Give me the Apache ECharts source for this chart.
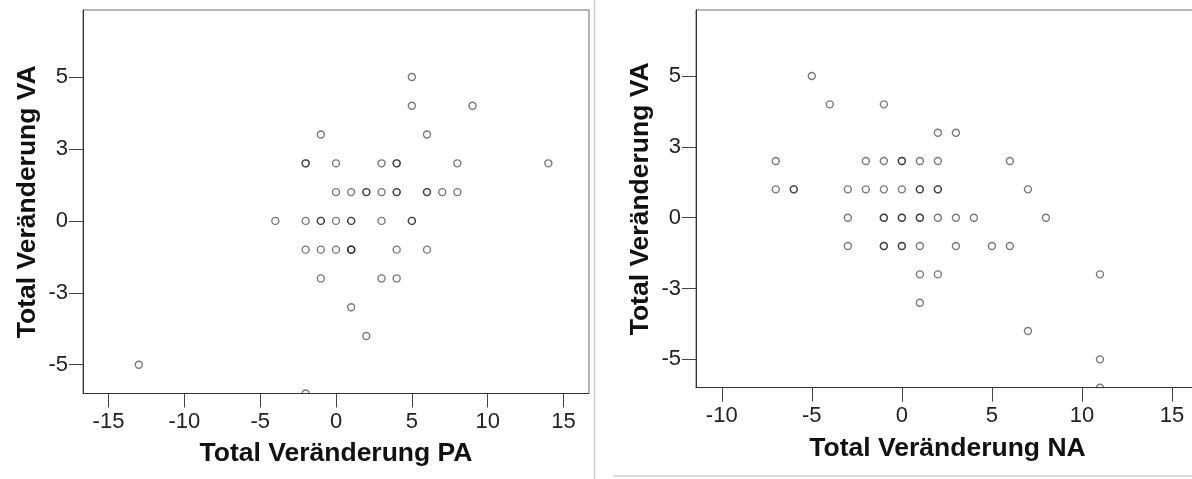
<!DOCTYPE html>
<html>
<head>
<meta charset="utf-8">
<script src="https://cdn.jsdelivr.net/npm/echarts@6/dist/echarts.min.js"></script>
<style>
  html, body { margin: 0; padding: 0; background: #fff; overflow: hidden; }
  /* the right-hand panel runs a little past the visible page edge */
  #chart { width: 1212px; height: 479px; }
</style>
</head>
<body>
<div id="chart"></div>
<script>
// Tick positions and their printed labels
const xTickValues = [-15, -10, -5, 0, 5, 10, 15];
const yTickValues = [-5, -2.5, 0, 2.5, 5];
const yTickLabels = ['-5', '-3', '0', '3', '5'];

// Axis titles
const titlePA = 'Total Veränderung PA';
const titleNA = 'Total Veränderung NA';
const titleVA = 'Total Veränderung VA';

// [Total Veränderung PA, Total Veränderung VA] — repeated pairs are coincident cases
const pointsPA = [
  [5, 5],
  [5, 4], [9, 4],
  [-1, 3], [6, 3],
  [-2, 2], [-2, 2], [0, 2], [3, 2], [4, 2], [4, 2], [8, 2], [14, 2],
  [0, 1], [1, 1], [2, 1], [2, 1], [3, 1], [4, 1], [4, 1], [6, 1], [6, 1], [7, 1], [8, 1],
  [-4, 0], [-2, 0], [-1, 0], [-1, 0], [0, 0], [1, 0], [1, 0], [3, 0], [5, 0], [5, 0],
  [-2, -1], [-1, -1], [0, -1], [1, -1], [1, -1], [1, -1], [4, -1], [6, -1],
  [-1, -2], [3, -2], [4, -2],
  [1, -3],
  [2, -4],
  [-13, -5],
  [-2, -6]
];

// [Total Veränderung NA, Total Veränderung VA]
const pointsNA = [
  [-5, 5],
  [-4, 4], [-1, 4],
  [2, 3], [3, 3],
  [-7, 2], [-2, 2], [-1, 2], [0, 2], [0, 2], [1, 2], [2, 2], [6, 2],
  [-7, 1], [-6, 1], [-6, 1], [-3, 1], [-2, 1], [-1, 1], [0, 1], [1, 1], [1, 1], [2, 1], [2, 1], [7, 1],
  [-3, 0], [-1, 0], [-1, 0], [0, 0], [0, 0], [1, 0], [1, 0], [2, 0], [3, 0], [4, 0], [8, 0],
  [-3, -1], [-1, -1], [-1, -1], [0, -1], [0, -1], [1, -1], [3, -1], [5, -1], [6, -1],
  [1, -2], [2, -2], [11, -2],
  [1, -3],
  [7, -4],
  [11, -5],
  [11, -6]
];

// Axis ranges
const rangePA = [-16.68, 16.68];
const rangeNA = [-11.43, 16.5];
const rangeVA = [-6, 7.33];

// Plot boxes (pixels)
const boxL = { left: 83, top: 10, width: 506, height: 383.5 };
const boxR = { left: 696, top: 10, width: 503, height: 377.7 };

const FONT = '"Liberation Sans", Arial, Helvetica, sans-serif';
const TITLE_STYLE = { fontFamily: FONT, fontSize: 26.5, fontWeight: 'bold', color: '#111' };

function xAxisCfg(gridIndex, range, name) {
  return {
    type: 'value', gridIndex, min: range[0], max: range[1], z: 6,
    name, nameLocation: 'middle', nameGap: 47,
    nameTextStyle: TITLE_STYLE,
    axisLine: { show: true, onZero: false, lineStyle: { color: '#333', width: 1 } },
    axisTick: { show: true, length: 14, customValues: xTickValues, lineStyle: { color: '#444', width: 1 } },
    axisLabel: { customValues: xTickValues, margin: 17, fontFamily: FONT, fontSize: 22, color: '#222',
      formatter: v => String(v) },
    splitLine: { show: false }
  };
}

function yAxisCfg(gridIndex) {
  return {
    type: 'value', gridIndex, min: rangeVA[0], max: rangeVA[1], z: 6,
    name: titleVA, nameLocation: 'middle', nameGap: 42,
    nameTextStyle: TITLE_STYLE,
    axisLine: { show: true, onZero: false, lineStyle: { color: '#333', width: 1 } },
    axisTick: { show: true, length: 14, customValues: yTickValues, lineStyle: { color: '#444', width: 1 } },
    axisLabel: { customValues: yTickValues, margin: 15, fontFamily: FONT, fontSize: 22, color: '#222',
      formatter: v => yTickLabels[yTickValues.indexOf(v)] ?? '' },
    splitLine: { show: false }
  };
}

const markerStyle = {
  color: 'rgba(0,0,0,0)',
  borderColor: 'rgba(20,20,20,0.72)',
  borderWidth: 1.4
};

// White strips just under each plot box so that marks sitting on the lower edge are cut off there
function edgeMask(box) {
  return {
    type: 'rect', z: 4, silent: true,
    shape: { x: box.left, y: box.top + box.height + 0.6, width: box.width, height: 6 },
    style: { fill: '#fff' }
  };
}

const chart = echarts.init(document.getElementById('chart'), null, { renderer: 'canvas' });
chart.setOption({
  animation: false,
  backgroundColor: '#fff',
  grid: [
    Object.assign({ show: true, borderColor: '#6e6e6e', borderWidth: 1, containLabel: false }, boxL),
    Object.assign({ show: true, borderColor: '#6e6e6e', borderWidth: 1, containLabel: false }, boxR)
  ],
  xAxis: [xAxisCfg(0, rangePA, titlePA), xAxisCfg(1, rangeNA, titleNA)],
  yAxis: [yAxisCfg(0), yAxisCfg(1)],
  series: [
    { type: 'scatter', xAxisIndex: 0, yAxisIndex: 0, data: pointsPA, symbol: 'circle', symbolSize: 7,
      itemStyle: markerStyle, emphasis: { disabled: true } },
    { type: 'scatter', xAxisIndex: 1, yAxisIndex: 1, data: pointsNA, symbol: 'circle', symbolSize: 7,
      itemStyle: markerStyle, emphasis: { disabled: true } }
  ],
  graphic: [
    edgeMask(boxL),
    edgeMask(boxR),
    // panel separators
    { type: 'line', z: 1, silent: true, shape: { x1: 594.5, y1: 0, x2: 594.5, y2: 479 },
      style: { stroke: '#cfcfcf', lineWidth: 1.5 } },
    { type: 'line', z: 1, silent: true, shape: { x1: 613, y1: 476, x2: 1212, y2: 476 },
      style: { stroke: '#cfcfcf', lineWidth: 1.5 } }
  ]
});
</script>
</body>
</html>
